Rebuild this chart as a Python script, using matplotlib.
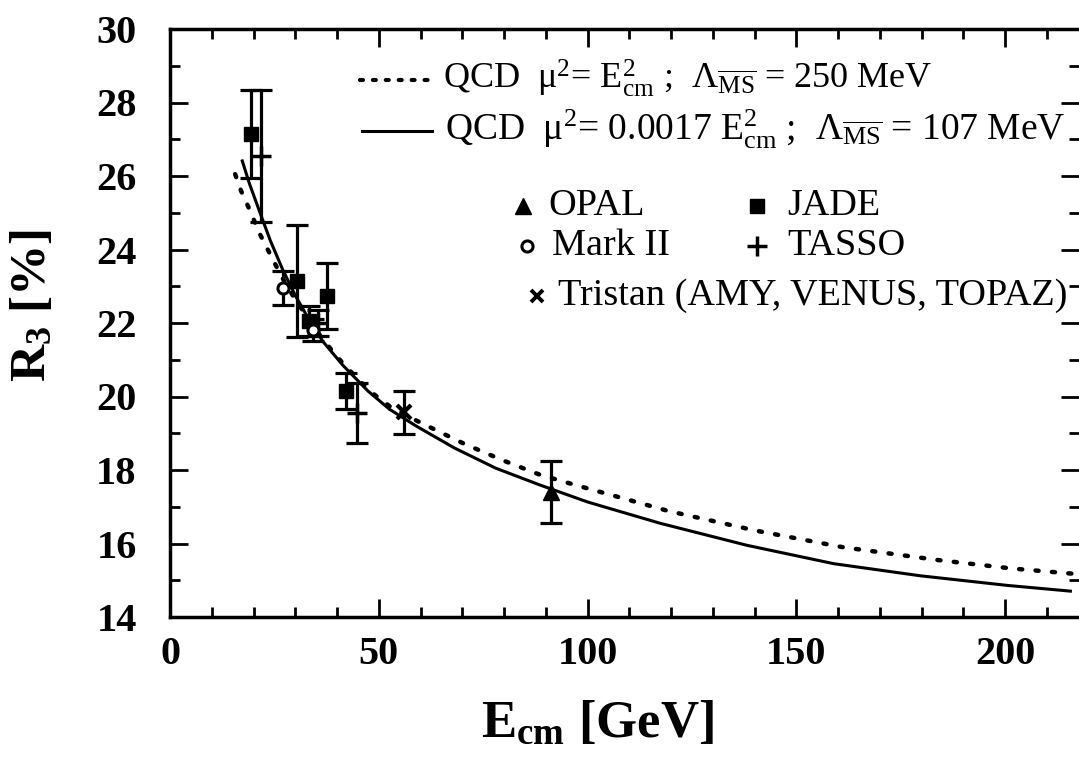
import matplotlib
matplotlib.use('Agg')
from matplotlib import pyplot as plt
from matplotlib.ticker import MultipleLocator

# data
jade_x = [19.5, 30.3, 33.2, 37.6, 42.2]
jade_y = [27.15, 23.15, 22.05, 22.74, 20.15]
jade_err = [1.2, 1.53, 0.4, 0.9, 0.5]

tasso_x = [21.9, 35.5, 44.7]
tasso_y = [26.55, 22.0, 19.55]
tasso_err = [1.8, 0.35, 0.82]

mark2_x = [27.0, 34.2]
mark2_y = [22.95, 21.8]
mark2_err = [0.47, 0.3]

tristan_x = [56.0]
tristan_y = [19.57]
tristan_err = [0.59]

opal_x = [91.3]
opal_y = [17.4]
opal_err = [0.85]

# QCD curves (mu^2 = 0.0017 E^2, solid) and (mu^2 = E^2, dotted)
solid_x = [17.2, 19.0, 21.4, 24.0, 27.0, 30.0, 33.0, 36.6, 41.4, 47.4, 52.6, 58.9,
           68.1, 78.0, 88.4, 100.0, 117.4, 138.2, 159.0, 179.8, 200.5, 216.0]
solid_y = [26.45, 25.8, 25.05, 24.25, 23.45, 22.75, 22.15, 21.5, 20.85, 20.15, 19.65, 19.2,
           18.6, 18.05, 17.6, 17.13, 16.55, 15.95, 15.45, 15.12, 14.86, 14.7]
dot_x = [15.6, 17.0, 19.0, 21.4, 23.4, 25.2, 28.0, 32.0, 36.6, 41.4, 47.8, 53.0,
         59.8, 70.7, 80.0, 88.4, 96.2, 119.5, 140.3, 161.1, 183.9, 201.6, 216.0]
dot_y = [26.05, 25.6, 25.1, 24.45, 24.0, 23.6, 23.0, 22.3, 21.55, 20.9, 20.15, 19.7,
         19.3, 18.7, 18.25, 17.88, 17.62, 16.88, 16.35, 15.9, 15.55, 15.32, 15.18]

plt.rcParams['font.family'] = ['Liberation Serif', 'DejaVu Serif']
plt.rcParams['mathtext.fontset'] = 'custom'
plt.rcParams['mathtext.rm'] = 'Liberation Serif'
plt.rcParams['mathtext.it'] = 'Liberation Serif:italic'
plt.rcParams['mathtext.bf'] = 'Liberation Serif:bold'

W, H = 1079, 758
fig = plt.figure(figsize=(W / 100, H / 100), dpi=100)
L, R, T, B = 170, 1079, 29, 617
ax = fig.add_axes([L / W, 1 - B / H, (R - L) / W, (B - T) / H])

ax.plot(solid_x, solid_y, color='black', lw=2.2, solid_capstyle='butt')
ax.plot(dot_x, dot_y, color='black', lw=3.2, linestyle=(0, (0.7, 3.0)), dash_capstyle='round')

eb = dict(fmt='none', ecolor='black', elinewidth=2.3, capsize=8, capthick=2.3)
ax.errorbar(jade_x, jade_y, yerr=jade_err, **eb)
ax.errorbar(tasso_x, tasso_y, yerr=tasso_err, **eb)
ax.errorbar(mark2_x, mark2_y, yerr=mark2_err, **eb)
ax.errorbar(tristan_x, tristan_y, yerr=tristan_err, **eb)
ax.errorbar(opal_x, opal_y, yerr=opal_err, **eb)

ax.plot(jade_x, jade_y, 's', color='black', ms=10)
ax.plot(tasso_x, tasso_y, '+', color='black', ms=14, mew=2.5)
ax.plot(mark2_x, mark2_y, 'o', mfc='white', mec='black', ms=8, mew=2.2)
ax.plot(tristan_x, tristan_y, 'x', color='black', ms=10, mew=3)
ax.plot(opal_x, opal_y, '^', color='black', ms=12)

ax.set_xlim(0, 217.7)
ax.set_ylim(14, 30)
ax.xaxis.set_major_locator(MultipleLocator(50))
ax.xaxis.set_minor_locator(MultipleLocator(10))
ax.yaxis.set_major_locator(MultipleLocator(2))
ax.yaxis.set_minor_locator(MultipleLocator(1))
ax.tick_params(which='both', direction='in', top=True, right=True, width=2)
ax.tick_params(which='major', length=13, labelsize=29)
ax.tick_params(axis='x', which='major', pad=14)
ax.tick_params(axis='y', which='major', pad=24)
ax.tick_params(which='minor', length=7)
for lab in ax.get_xticklabels() + ax.get_yticklabels():
    lab.set_fontweight('bold')
for s in ax.spines.values():
    s.set_linewidth(2.5)
ax.spines['right'].set_visible(False)

ax.set_xlabel(r'E$_{\mathbf{cm}}$ [GeV]', fontsize=38, fontweight='bold')
ax.xaxis.set_label_coords(0.47, -0.14)
ax.set_ylabel(r'R$_{\mathbf{3}}$ [%]', fontsize=37, fontweight='bold')
ax.yaxis.set_label_coords(-0.125, 0.53)


# hand-made legend, placed in figure pixels like the original
def fx(px):
    return px / W


def fy(py):
    return 1 - py / H


def key_text(px, py, s, size=27.5):
    fig.text(fx(px), fy(py), s, fontsize=size, ha='left', va='center')


def key_mark(px, py, **kw):
    ax.plot([fx(px)], [fy(py)], transform=fig.transFigure, clip_on=False, **kw)


ax.plot([fx(360), fx(432)], [fy(80), fy(80)], transform=fig.transFigure, clip_on=False,
        color='black', lw=3.0, linestyle=(0, (0.7, 2.4)), dash_capstyle='round')
key_text(443, 78, r'QCD  μ$^{2}$= E$^{2}_{\rm cm}$ ;  Λ$_{\overline{\rm MS}}$ = 250 MeV', size=26)
ax.plot([fx(362), fx(432)], [fy(131), fy(131)], transform=fig.transFigure, clip_on=False,
        color='black', lw=2.2)
key_text(445, 129, r'QCD  μ$^{2}$= 0.0017 E$^{2}_{\rm cm}$ ;  Λ$_{\overline{\rm MS}}$ = 107 MeV', size=27)

key_mark(523, 206, marker='^', color='black', ms=12)
key_text(548, 206, 'OPAL')
key_mark(757, 206, marker='s', color='black', ms=10)
key_text(787, 206, 'JADE')
key_mark(527, 246, marker='o', mfc='white', mec='black', ms=8, mew=2.2)
key_text(552, 246, 'Mark II')
key_mark(757, 246, marker='+', color='black', ms=14, mew=2.5)
key_text(787, 246, 'TASSO')
key_mark(537, 296, marker='x', color='black', ms=9, mew=2.8)
key_text(558, 296, 'Tristan (AMY, VENUS, TOPAZ)')

fig.savefig('out.png', dpi=100)
